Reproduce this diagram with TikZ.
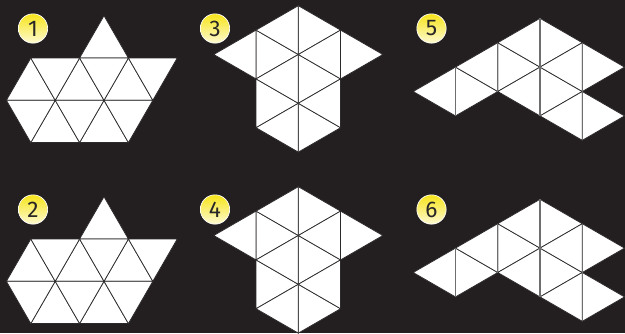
\documentclass[tikz,border=0pt]{standalone}
\usepackage{fontspec}
\setmainfont{Fira Sans}
\definecolor{board}{RGB}{35,31,33}
\definecolor{edge}{RGB}{45,42,44}
\definecolor{seam}{RGB}{110,110,110}
\definecolor{ink}{RGB}{40,38,38}
\definecolor{badgetop}{RGB}{247,228,25}
\definecolor{badgebot}{RGB}{253,250,210}

\begin{document}
\begin{tikzpicture}[x=0.75pt,y=-0.75pt,
  face/.style={fill=white,draw=edge,line width=0.55pt},
  vline/.style={draw=seam,line width=0.8pt},
  badge/.style={circle,draw=white,line width=0.5pt,minimum size=22pt,inner sep=0pt,
                top color=badgetop,bottom color=badgebot,text=ink,
                font=\fontsize{17}{17}\selectfont},
  flatnet/.pic={
    \begin{scope}[x={(36.6pt,0pt)},y={(18.3pt,31.695pt)}]
      \foreach \i/\j in {0/0,1/0,2/0,1/1,1/-1,2/-1} \draw[face] (\i,\j) -- ++(1,0) -- ++(-1,1) -- cycle;
      \foreach \i/\j in {0/0,1/0,2/0,0/-1,1/-1,2/-1} \draw[face] (\i+1,\j) -- ++(0,1) -- ++(-1,0) -- cycle;
    \end{scope}},
  tallnet/.pic={
    \begin{scope}[x={(0pt,-36.6pt)},y={(31.695pt,-18.3pt)}]
      \foreach \i/\j in {0/0,1/-1,0/1,1/0,2/-1,2/0} \draw[face] (\i,\j) -- ++(1,0) -- ++(-1,1) -- cycle;
      \foreach \i/\j in {0/-1,0/0,1/-2,1/-1,1/0,2/-1} \draw[face] (\i+1,\j) -- ++(0,1) -- ++(-1,0) -- cycle;
    \end{scope}},
  widenet/.pic={
    \begin{scope}[x={(0pt,-36.6pt)},y={(31.695pt,-18.3pt)}]
      \foreach \i/\j in {2/-2,1/-1,0/0,1/0,0/1,1/1} \draw[face] (\i,\j) -- ++(1,0) -- ++(-1,1) -- cycle;
      \foreach \i/\j in {2/-3,1/-2,0/-1,1/-1,0/0,1/0} \draw[face] (\i+1,\j) -- ++(0,1) -- ++(-1,0) -- cycle;
      % vertical seams are lighter here
      \foreach \i/\j/\n in {2/-2/1,1/-1/1,0/0/2,0/1/2} \draw[vline] (\i,\j) -- ++(\n,0);
    \end{scope}}]
  \useasboundingbox (0,0) rectangle (625,333);
  \fill[board] (0,0) rectangle (625,333);

  % left column
  \pic at (6.4,100.3) {flatnet};
  \pic at (6.4,281.3) {flatnet};
  % middle column
  \pic at (298.3,5.7) {tallnet};
  \pic at (298.3,186.7) {tallnet};
  % right column
  \pic at (540,18.3) {widenet};
  \pic at (540,199.3) {widenet};

  \node[badge] (b1) at (33,28.5) {1};
  \node[badge] (b2) at (33,209.5) {2};
  \node[badge] (b3) at (215,28.5) {3};
  \node[badge] (b4) at (215,209.5) {4};
  \node[badge] (b5) at (431.5,28.5) {5};
  \node[badge] (b6) at (431.5,209.5) {6};
\end{tikzpicture}
\end{document}
